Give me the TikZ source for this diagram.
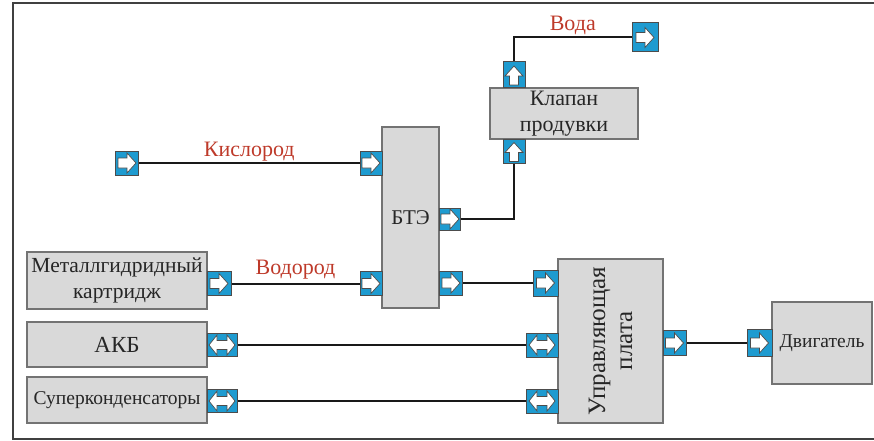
\documentclass[tikz,border=0pt]{standalone}
\usepackage{fontspec}
\setmainfont{Liberation Serif}
\usepackage{xcolor}
\usepackage{tikz}
\usetikzlibrary{positioning}
\definecolor{portblue}{RGB}{30,155,208}
\definecolor{boxgray}{RGB}{217,217,217}
\definecolor{lblred}{RGB}{190,58,42}
\tikzset{
    unit/.style={rectangle, draw=black!55, line width=1.2pt, fill=boxgray, text=black!85, align=center, inner sep=2pt, font=\fontsize{21.5}{26}\selectfont},
    port/.style={rectangle, draw=black!70, line width=1pt, fill=portblue, minimum width=23pt, minimum height=24pt, inner sep=0pt},
    arrowfill/.style={fill=white, draw=black!70, line width=0.7pt, line join=miter},
    portR/.style={port, path picture={\draw[arrowfill] ([shift={(-9,-5)}]path picture bounding box.center) -- ++(9,0) -- ++(0,-5) -- ++(9,10) -- ++(-9,10) -- ++(0,-5) -- ++(-9,0) -- cycle;}},
    portU/.style={port, minimum width=22pt, minimum height=24pt, path picture={\draw[arrowfill] ([shift={(-4.5,10)}]path picture bounding box.center) -- ++(0,-9) -- ++(-4.5,0) -- ++(9,-10) -- ++(9,10) -- ++(-4.5,0) -- ++(0,9) -- cycle;}},
    portB/.style={port, minimum width=31pt, minimum height=24pt, path picture={\draw[arrowfill] ([shift={(-13,0)}]path picture bounding box.center) -- ++(8,-10) -- ++(0,5.5) -- ++(10,0) -- ++(0,-5.5) -- ++(8,10) -- ++(-8,10) -- ++(0,-5.5) -- ++(-10,0) -- ++(0,5.5) -- cycle;}},
    link/.style={line width=2pt, draw=black!90},
    lbl/.style={text=lblred, font=\fontsize{22}{25}\selectfont, inner sep=1pt}
}
\begin{document}
\begin{tikzpicture}[x=1pt, y=-1pt]
    \useasboundingbox (0,0) rectangle (874,441);
    \draw[line width=1.5pt, draw=black!75] (874,3) -- (13,3) -- (13,439) -- (874,439);

    % blocks
    \node (mh) [unit, minimum width=180pt, minimum height=57pt] at (117,280.5) {Металлгидридный\\картридж};
    \node (akb) [unit, minimum width=180pt, minimum height=45pt, font=\fontsize{23}{26}\selectfont] at (117,344.5) {АКБ};
    \node (sup) [unit, minimum width=180pt, minimum height=46pt, font=\fontsize{19.5}{22}\selectfont] at (117,400) {Суперконденсаторы};
    \node (bte) [unit, minimum width=57pt, minimum height=181pt, font=\fontsize{21}{24}\selectfont] at (410.5,217.5) {БТЭ};
    \node (klapan) [unit, minimum width=148pt, minimum height=51pt, font=\fontsize{22}{26}\selectfont] at (564,113.5) {Клапан\\продувки};
    \node (plata) [unit, minimum width=164pt, minimum height=105pt, rotate=90, font=\fontsize{25}{27}\selectfont] at (610.5,341) {Управляющая\\плата};
    \node (dvig) [unit, minimum width=100pt, minimum height=82pt, font=\fontsize{19.5}{22}\selectfont] at (822,343) {Двигатель};

    % ports
    \node (o2src) [portR] at (127,163) {};
    \node (bteIn1) [portR, minimum width=22pt] at (371,163) {};
    \node (bteIn2) [portR, minimum width=22pt] at (371,283.5) {};
    \node (bteOut1) [portR, minimum width=21pt, minimum height=22pt] at (450,219) {};
    \node (bteOut2) [portR] at (451,283) {};
    \node (mhOut) [portR, minimum width=24pt] at (219,283.5) {};
    \node (klIn) [portU] at (514,151.5) {};
    \node (klOut) [portU, minimum height=26pt] at (514,75) {};
    \node (water) [portR, minimum width=26pt, minimum height=29pt] at (645,37.5) {};
    \node (akbOut) [portB, minimum width=30pt, minimum height=23pt] at (222,345) {};
    \node (supOut) [portB, minimum width=30pt, minimum height=23pt] at (222,401) {};
    \node (plIn) [portR, minimum width=25pt, minimum height=26pt] at (545.5,283) {};
    \node (plBi1) [portB, minimum width=32pt] at (542,345) {};
    \node (plBi2) [portB, minimum width=32pt] at (542,401) {};
    \node (plOut) [portR, minimum height=25pt] at (674.5,343) {};
    \node (dvIn) [portR, minimum width=25pt, minimum height=27pt] at (759.5,343) {};

    % links
    \draw [link] (o2src) -- node[lbl, above] {Кислород} (bteIn1);
    \draw [link] (mhOut) -- node[lbl, above=2pt] {Водород} (bteIn2);
    \draw [link] (bteOut1.east) -| (klIn.south);
    \draw [link] (klOut.north) |- node[lbl, pos=0.75, above=1pt] {Вода} (water.west);
    \draw [link] (bteOut2) -- (plIn);
    \draw [link] (akbOut) -- (plBi1);
    \draw [link] (supOut) -- (plBi2);
    \draw [link] (plOut) -- (dvIn);
\end{tikzpicture}
\end{document}
